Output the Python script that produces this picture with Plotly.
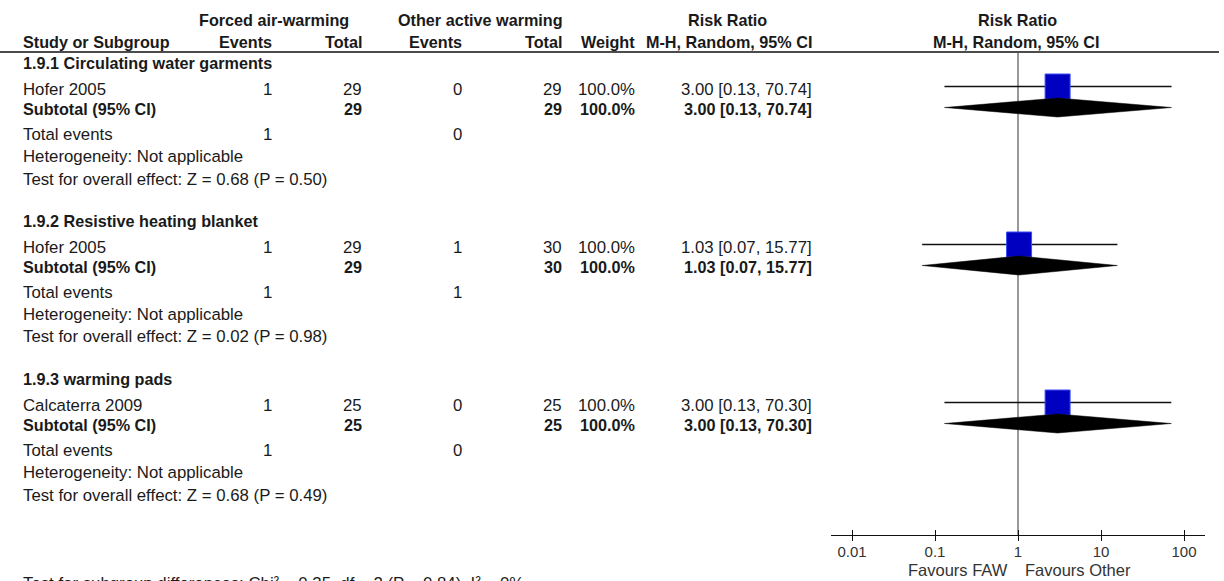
import plotly.graph_objects as go

# ---------------- data ----------------
group_titles = ["1.9.1 Circulating water garments",
                "1.9.2 Resistive heating blanket",
                "1.9.3 warming pads"]
studies = ["Hofer 2005", "Hofer 2005", "Calcaterra 2009"]
faw_events = [1, 1, 1]
faw_total = [29, 29, 25]
other_events = [0, 1, 0]
other_total = [29, 30, 25]
weights = [100.0, 100.0, 100.0]
rr = [3.00, 1.03, 3.00]
rr_low = [0.13, 0.07, 0.13]
rr_high = [70.74, 15.77, 70.30]
sub_rr = [3.00, 1.03, 3.00]
sub_low = [0.13, 0.07, 0.13]
sub_high = [70.74, 15.77, 70.30]
z_values = [0.68, 0.02, 0.68]
p_values = [0.50, 0.98, 0.49]
tick_vals = [0.01, 0.1, 1, 10, 100]
tick_text = ["0.01", "0.1", "1", "10", "100"]
subgroup_test = "Test for subgroup differences: Chi² = 0.35, df = 2 (P = 0.84), I² = 0%"

# ---------------- layout constants ----------------
W, H = 1224, 581
FONT = "Liberation Sans, Arial, sans-serif"
FS = 16.8
FSB = 16.2
TXT = "#1a1a1a"
GROUP_TOP = [63, 221, 379]

def px(x):
    return x / W

def py(y):
    return 1 - y / H

annotations = []

def text(x, y, s, anchor="left", bold=False, size=None, color=TXT):
    if size is None:
        size = FSB if bold else FS
    annotations.append(dict(
        x=px(x), y=py(y), xref="paper", yref="paper", text=("<b>%s</b>" % s) if bold else s,
        showarrow=False, xanchor=anchor, yanchor="middle",
        font=dict(family=FONT, size=size, color=color), borderpad=0))

# header
text(274, 20, "Forced air-warming", "center", True)
text(480, 20, "Other active warming", "center", True)
text(727, 20, "Risk Ratio", "center", True)
text(1017, 20, "Risk Ratio", "center", True)
text(22, 42, "Study or Subgroup", "left", True)
text(273, 42, "Events", "right", True)
text(363, 42, "Total", "right", True)
text(463, 42, "Events", "right", True)
text(563, 42, "Total", "right", True)
text(636, 42, "Weight", "right", True)
text(813, 42, "M-H, Random, 95% CI", "right", True)
text(1016, 42, "M-H, Random, 95% CI", "center", True)

fig = go.Figure()

for g in range(3):
    top = GROUP_TOP[g]
    y_study = top + 26.5
    y_sub = top + 45.5
    y_tot = top + 71
    y_het = top + 93
    y_test = top + 116
    text(22, top, group_titles[g], "left", True)
    # study row
    text(22, y_study, studies[g])
    text(273, y_study, str(faw_events[g]), "right")
    text(363, y_study, str(faw_total[g]), "right")
    text(463, y_study, str(other_events[g]), "right")
    text(563, y_study, str(other_total[g]), "right")
    text(636, y_study, "%.1f%%" % weights[g], "right")
    text(813, y_study, "%.2f [%.2f, %.2f]" % (rr[g], rr_low[g], rr_high[g]), "right")
    # subtotal row
    text(22, y_sub, "Subtotal (95% CI)", "left", True)
    text(363, y_sub, str(faw_total[g]), "right", True)
    text(563, y_sub, str(other_total[g]), "right", True)
    text(636, y_sub, "%.1f%%" % weights[g], "right", True)
    text(813, y_sub, "%.2f [%.2f, %.2f]" % (sub_rr[g], sub_low[g], sub_high[g]), "right", True)
    # totals
    text(22, y_tot, "Total events")
    text(273, y_tot, str(faw_events[g]), "right")
    text(463, y_tot, str(other_events[g]), "right")
    text(22, y_het, "Heterogeneity: Not applicable")
    text(22, y_test, "Test for overall effect: Z = %.2f (P = %.2f)" % (z_values[g], p_values[g]))

    # graphics
    y_mark = top + 23.5
    y_dia = top + 44.5
    fig.add_trace(go.Scatter(x=[rr_low[g], rr_high[g]], y=[y_mark, y_mark], mode="lines",
                             line=dict(color="#111111", width=1.3), hoverinfo="skip",
                             showlegend=False))
    fig.add_trace(go.Scatter(x=[rr[g]], y=[y_mark], mode="markers",
                             marker=dict(symbol="square", size=25, color="#0000C0",
                                         line=dict(color="#3a4cf0", width=1)),
                             showlegend=False))
    fig.add_trace(go.Scatter(x=[sub_low[g], sub_rr[g], sub_high[g], sub_rr[g], sub_low[g]],
                             y=[y_dia, y_dia - 9.5, y_dia, y_dia + 9.5, y_dia],
                             mode="lines", fill="toself", fillcolor="#000000",
                             line=dict(color="#000000", width=0.5), showlegend=False))

# bottom text (cut by the page edge as in the reference)
text(22, 583, subgroup_test)
text(1009, 570, "Favours FAW", "right", size=16.5, color="#333333")
text(1024, 570, "Favours Other", "left", size=16.5, color="#333333")

# invisible trace for the inner-tick axis
fig.add_trace(go.Scatter(x=[1], y=[300], xaxis="x2", mode="markers",
                         marker=dict(opacity=0), showlegend=False, hoverinfo="skip"))

axis_pos = (H - 535) / H
common = dict(type="log", range=[-2.253, 2.253], domain=[px(831), px(1205)],
              anchor="free", position=axis_pos, tickvals=tick_vals, ticktext=tick_text,
              showgrid=False, zeroline=False, fixedrange=True)
fig.update_layout(
    width=W, height=H,
    margin=dict(l=0, r=0, t=0, b=0),
    paper_bgcolor="white", plot_bgcolor="rgba(0,0,0,0)",
    xaxis=dict(**common, showline=True, linecolor="#111111", linewidth=1.3,
               ticks="outside", ticklen=5, tickwidth=1.3, tickcolor="#111111",
               ticklabelstandoff=-2,
               tickfont=dict(family=FONT, size=15, color="#333333")),
    xaxis2=dict(**common, overlaying="x", showline=False, ticks="inside", ticklen=5,
                tickwidth=1.3, tickcolor="#111111", showticklabels=False),
    yaxis=dict(range=[H, 0], domain=[0, 1], visible=False, fixedrange=True),
    annotations=annotations,
    shapes=[
        dict(type="line", xref="paper", yref="y", x0=0, x1=px(1219), y0=52, y1=52,
             line=dict(color="#111111", width=1.5)),
        dict(type="line", xref="x", yref="y", x0=1, x1=1, y0=53, y1=535,
             line=dict(color="#555555", width=1.2), layer="below"),
    ],
    showlegend=False,
)

fig.write_html("out.html", config={"displayModeBar": False},
               post_script="document.body.style.margin='0';document.body.style.overflow='hidden';")
